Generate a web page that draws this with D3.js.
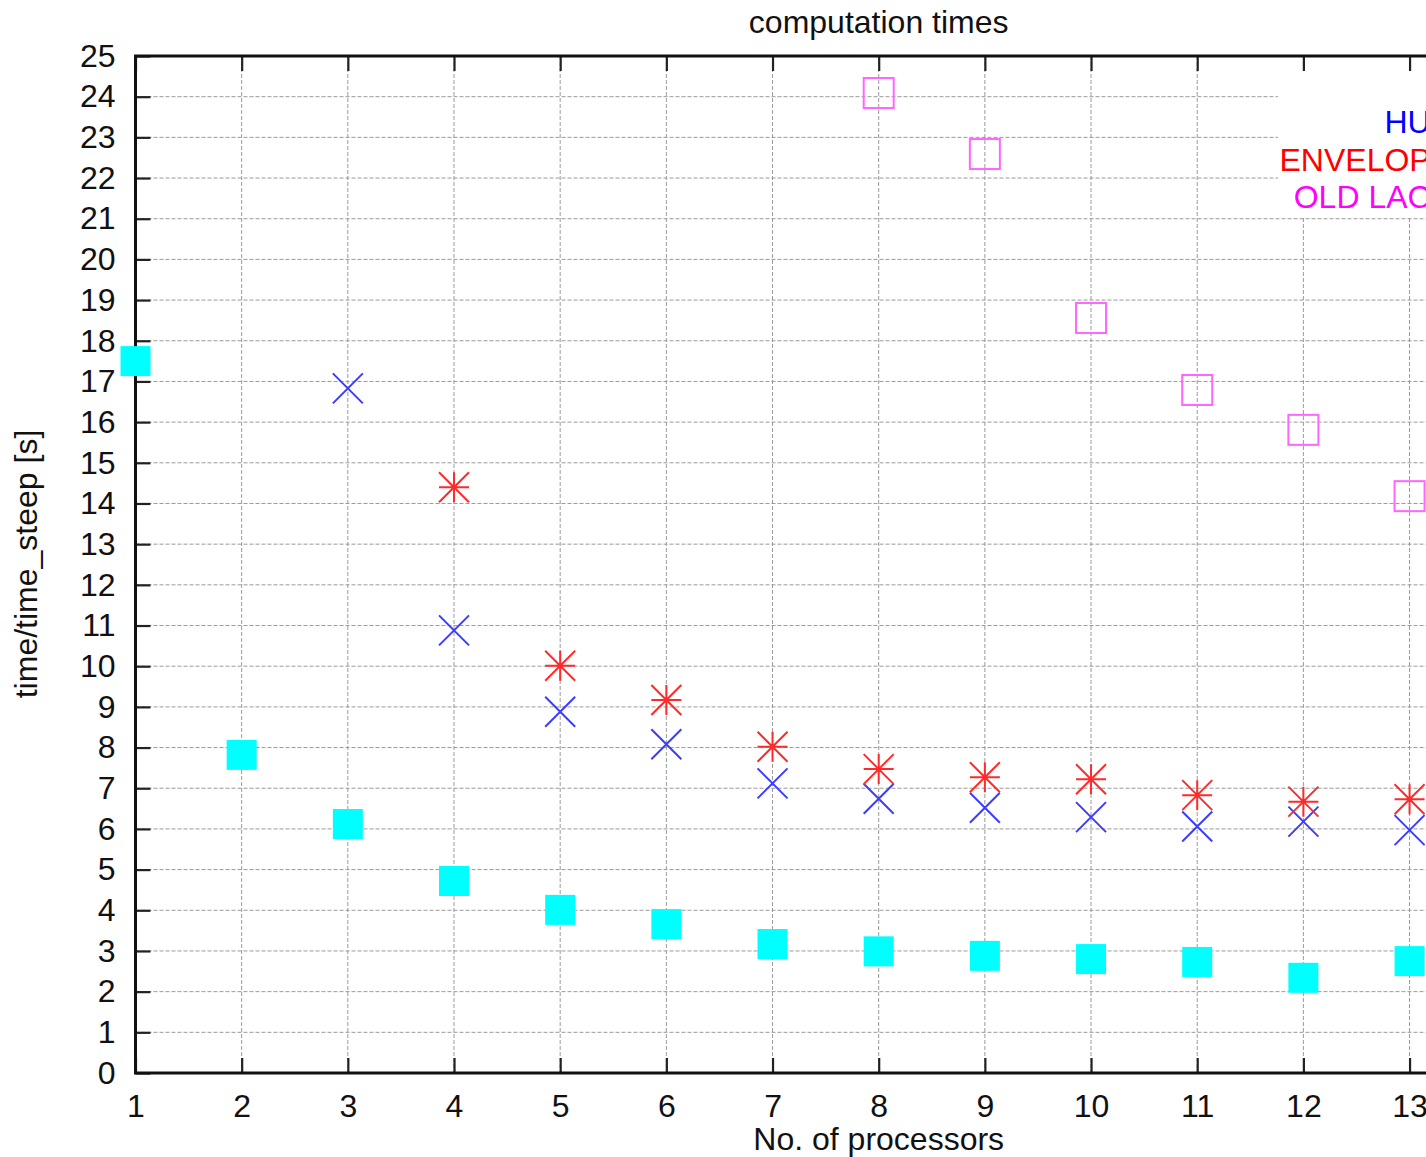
<!DOCTYPE html>
<html><head><meta charset="utf-8">
<script src="https://cdn.jsdelivr.net/npm/d3@7"></script>
<style>
html,body{margin:0;padding:0;background:#fff;overflow:hidden;}
svg{display:block;font-family:"Liberation Sans",Arial,Helvetica,sans-serif;}
</style>
</head><body>
<svg id="chart" width="1700" height="1157"></svg>
<script>
// ---- data ----
const processors = [1,2,3,4,5,6,7,8,9,10,11,12,13];
const baseTimes     = [17.50, 7.82, 6.12, 4.72, 4.01, 3.66, 3.17, 2.99, 2.88, 2.80, 2.73, 2.34, 2.75];
const hullTimes     = [null, null, 16.83, 10.88, 8.88, 8.08, 7.12, 6.74, 6.52, 6.29, 6.06, 6.18, 5.97];
const envelopeTimes = [null, null, null, 14.40, 10.01, 9.17, 8.02, 7.47, 7.27, 7.22, 6.83, 6.67, 6.73];
const oldLacTimes   = [null, null, null, null, null, null, null, 24.09, 22.59, 18.56, 16.79, 15.81, 14.18];
const xTickValues = [1,2,3,4,5,6,7,8,9,10,11,12,13,14,15];
const yTickValues = d3.range(0, 26);
const legendLabels = ["HUB", "ENVELOPE", "OLD LACE"];
const titleText = "computation times";
const xLabelText = "No. of processors";
const yLabelText = "time/time_steep [s]";

// ---- layout ----
const svg = d3.select("#chart");
const FONT = 32;
const x = d3.scaleLinear().domain([1, 15]).range([135.5, 1621.9]);
const y = d3.scaleLinear().domain([0, 25]).range([1073, 56]);
const [x0, x1] = x.range();
const [yb, yt] = y.range();

// grid
const grid = svg.append("g").attr("stroke", "#9a9a9a").attr("stroke-width", 1)
  .attr("stroke-dasharray", "4,2").attr("fill", "none");
grid.selectAll(".gh").data(yTickValues.filter(v => v > 0 && v < 25)).join("line")
  .attr("x1", x0).attr("x2", x1).attr("y1", d => y(d)).attr("y2", d => y(d));
grid.selectAll(".gv").data(xTickValues.filter(v => v > 1 && v < 15)).join("line")
  .attr("x1", d => x(d)).attr("x2", d => x(d)).attr("y1", yt).attr("y2", yb);

// key box (opaque)
svg.append("rect").attr("x", 1278).attr("y", 70).attr("width", 420).attr("height", 146)
  .attr("fill", "#fff");

// axes with inward ticks
function styleAxis(g) {
  g.select(".domain").remove();
  g.selectAll(".tick line").attr("stroke", "#222").attr("stroke-width", 2.2);
  g.selectAll(".tick text").attr("fill", "#111").attr("font-size", FONT)
    .attr("font-family", "Liberation Sans, Arial, sans-serif");
}
svg.append("g").attr("transform", `translate(${x0},0)`)
  .call(d3.axisLeft(y).tickValues(yTickValues).tickSizeInner(-15).tickSizeOuter(0).tickPadding(20))
  .call(styleAxis);
svg.append("g").attr("transform", `translate(0,${yb})`)
  .call(d3.axisBottom(x).tickValues(xTickValues).tickSizeInner(-15).tickSizeOuter(0).tickPadding(21))
  .call(styleAxis);
svg.append("g").attr("transform", `translate(0,${yt})`)
  .call(d3.axisTop(x).tickValues(xTickValues).tickSizeInner(-15).tickSizeOuter(0).tickFormat(""))
  .call(styleAxis);
svg.append("g").attr("transform", `translate(${x1},0)`)
  .call(d3.axisRight(y).tickValues(yTickValues).tickSizeInner(-15).tickSizeOuter(0).tickFormat(""))
  .call(styleAxis);

// border
svg.append("rect").attr("x", x0).attr("y", yt).attr("width", x1 - x0).attr("height", yb - yt)
  .attr("fill", "none").attr("stroke", "#111").attr("stroke-width", 3);

// titles
svg.append("text").attr("x", x(8)).attr("y", 33).attr("text-anchor", "middle")
  .attr("font-size", FONT).attr("fill", "#111").text(titleText);
svg.append("text").attr("x", x(8)).attr("y", 1150).attr("text-anchor", "middle")
  .attr("font-size", FONT).attr("fill", "#111").text(xLabelText);
svg.append("text").attr("transform", "translate(37,564) rotate(-90)").attr("text-anchor", "middle")
  .attr("font-size", FONT).attr("fill", "#111").text(yLabelText);

// markers
const S = 15;
const xPath = `M${-S},${-S}L${S},${S}M${-S},${S}L${S},${-S}`;
const starPath = xPath + `M${-S},0H${S}M0,${-S}V${S}`;
const pts = arr => processors.map((p, i) => ({p, v: arr[i]})).filter(d => d.v != null);

const marks = svg.append("g");
marks.selectAll(".base").data(pts(baseTimes)).join("rect")
  .attr("x", d => x(d.p) - S).attr("y", d => y(d.v) - S).attr("width", 2 * S).attr("height", 2 * S)
  .attr("fill", "#00ffff");
marks.selectAll(".hull").data(pts(hullTimes)).join("path")
  .attr("transform", d => `translate(${x(d.p)},${y(d.v)})`).attr("d", xPath)
  .attr("stroke", "#3c3cff").attr("stroke-width", 2).attr("fill", "none");
marks.selectAll(".env").data(pts(envelopeTimes)).join("path")
  .attr("transform", d => `translate(${x(d.p)},${y(d.v)})`).attr("d", starPath)
  .attr("stroke", "#ff2a2a").attr("stroke-width", 2).attr("fill", "none");
marks.selectAll(".old").data(pts(oldLacTimes)).join("rect")
  .attr("x", d => x(d.p) - S).attr("y", d => y(d.v) - S).attr("width", 2 * S).attr("height", 2 * S)
  .attr("fill", "none").attr("stroke", "#ff66ff").attr("stroke-width", 2);

// legend
const legendColors = ["#0000ff", "#ff0000", "#ff00ff"];
const R = 1452;
const leg = svg.append("g");
legendLabels.forEach((t, i) => {
  const by = 133 + i * 37.5;
  leg.append("text").attr("x", R).attr("y", by).attr("text-anchor", "end")
    .attr("font-size", FONT).attr("fill", legendColors[i]).text(t);
});
const sx = R + 60;
leg.append("path").attr("transform", `translate(${sx},122)`).attr("d", xPath)
  .attr("stroke", "#3c3cff").attr("stroke-width", 2).attr("fill", "none");
leg.append("path").attr("transform", `translate(${sx},159.5)`).attr("d", starPath)
  .attr("stroke", "#ff2a2a").attr("stroke-width", 2).attr("fill", "none");
leg.append("rect").attr("x", sx - S).attr("y", 197 - S).attr("width", 2 * S).attr("height", 2 * S)
  .attr("fill", "none").attr("stroke", "#ff66ff").attr("stroke-width", 2);
</script>
</body></html>
